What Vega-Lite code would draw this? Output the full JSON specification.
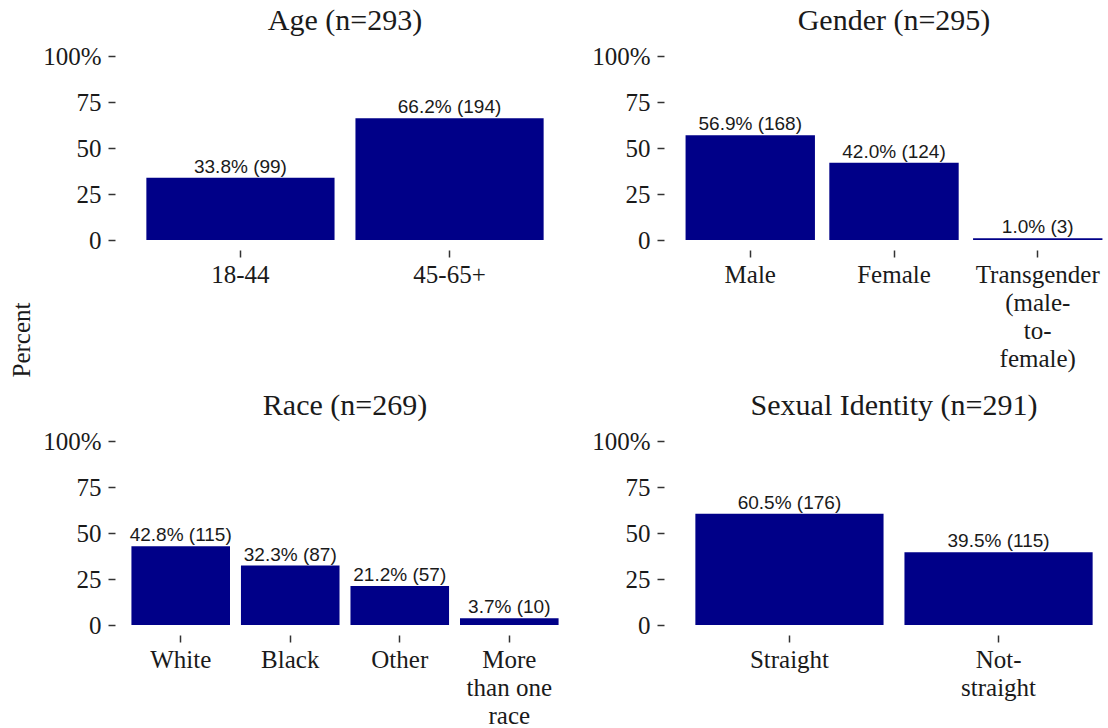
{
  "$schema": "https://vega.github.io/schema/vega-lite/v6.json",
  "background": "white",
  "padding": {"left": 2, "top": 6, "right": 0, "bottom": 0},
  "datasets": {
    "demo": [
      {"group": "Age", "category": "18-44", "pct": 33.8, "n": 99, "label": "33.8% (99)"},
      {"group": "Age", "category": "45-65+", "pct": 66.2, "n": 194, "label": "66.2% (194)"},
      {"group": "Gender", "category": "Male", "pct": 56.9, "n": 168, "label": "56.9% (168)"},
      {"group": "Gender", "category": "Female", "pct": 42.0, "n": 124, "label": "42.0% (124)"},
      {"group": "Gender", "category": "Transgender (male-to-female)", "pct": 1.0, "n": 3, "label": "1.0% (3)"},
      {"group": "Race", "category": "White", "pct": 42.8, "n": 115, "label": "42.8% (115)"},
      {"group": "Race", "category": "Black", "pct": 32.3, "n": 87, "label": "32.3% (87)"},
      {"group": "Race", "category": "Other", "pct": 21.2, "n": 57, "label": "21.2% (57)"},
      {"group": "Race", "category": "More than one race", "pct": 3.7, "n": 10, "label": "3.7% (10)"},
      {"group": "Sexual Identity", "category": "Straight", "pct": 60.5, "n": 176, "label": "60.5% (176)"},
      {"group": "Sexual Identity", "category": "Not-straight", "pct": 39.5, "n": 115, "label": "39.5% (115)"}
    ],
    "ylab": [{"text": "Percent"}]
  },
  "config": {
    "view": {"stroke": null},
    "font": "Liberation Serif",
    "title": {"font": "Liberation Serif", "fontSize": 30, "fontWeight": "normal", "color": "#1a1a1a", "anchor": "middle", "offset": 8},
    "axis": {"domain": false, "grid": false, "title": null, "labelFont": "Liberation Serif", "labelFontSize": 25, "labelColor": "#1a1a1a", "tickColor": "#333333", "tickWidth": 1.5, "tickSize": 7},
    "axisY": {"labelPadding": 7},
    "axisX": {"labelAngle": 0, "offset": 10, "labelPadding": 5, "labelLineHeight": 28}
  },
  "spacing": 0,
  "hconcat": [
    {
      "data": {"name": "ylab"},
      "width": 40,
      "height": 568,
      "mark": {"type": "text", "angle": 270, "font": "Liberation Serif", "fontSize": 25, "baseline": "middle", "align": "center", "color": "#1a1a1a"},
      "encoding": {"text": {"field": "text"}}
    },
    {
      "spacing": 20,
      "vconcat": [
        {
          "spacing": 16,
          "hconcat": [
            {
              "title": "Age (n=293)",
              "width": 460, "height": 184,
              "data": {"name": "demo"},
              "transform": [{"filter": "datum.group == 'Age'"}],
              "encoding": {
                "x": {"field": "category", "type": "nominal", "sort": null, "scale": {"paddingInner": 0.1, "paddingOuter": 0.15}, "axis": {"labelExpr": "datum.value == 'Transgender (male-to-female)' ? ['Transgender', '(male-', 'to-', 'female)'] : datum.value == 'More than one race' ? ['More', 'than one', 'race'] : datum.value == 'Not-straight' ? ['Not-', 'straight'] : datum.label"}},
                "y": {"field": "pct", "type": "quantitative", "scale": {"domain": [0, 100], "nice": false}, "axis": {"values": [0, 25, 50, 75, 100], "labelExpr": "datum.value == 100 ? '100%' : datum.label"}}
              },
              "layer": [
                {"mark": {"type": "bar", "color": "#000088"}},
                {"mark": {"type": "text", "font": "Liberation Sans", "fontSize": 19, "baseline": "alphabetic", "dy": -5, "color": "#1a1a1a"}, "encoding": {"text": {"field": "label"}}}
              ]
            },
            {
              "title": "Gender (n=295)",
              "width": 460, "height": 184,
              "data": {"name": "demo"},
              "transform": [{"filter": "datum.group == 'Gender'"}],
              "encoding": {
                "x": {"field": "category", "type": "nominal", "sort": null, "scale": {"paddingInner": 0.1, "paddingOuter": 0.15}, "axis": {"labelExpr": "datum.value == 'Transgender (male-to-female)' ? ['Transgender', '(male-', 'to-', 'female)'] : datum.value == 'More than one race' ? ['More', 'than one', 'race'] : datum.value == 'Not-straight' ? ['Not-', 'straight'] : datum.label"}},
                "y": {"field": "pct", "type": "quantitative", "scale": {"domain": [0, 100], "nice": false}, "axis": {"values": [0, 25, 50, 75, 100], "labelExpr": "datum.value == 100 ? '100%' : datum.label"}}
              },
              "layer": [
                {"mark": {"type": "bar", "color": "#000088"}},
                {"mark": {"type": "text", "font": "Liberation Sans", "fontSize": 19, "baseline": "alphabetic", "dy": -5, "color": "#1a1a1a"}, "encoding": {"text": {"field": "label"}}}
              ]
            }
          ]
        },
        {
          "spacing": 16,
          "hconcat": [
            {
              "title": "Race (n=269)",
              "width": 460, "height": 184,
              "data": {"name": "demo"},
              "transform": [{"filter": "datum.group == 'Race'"}],
              "encoding": {
                "x": {"field": "category", "type": "nominal", "sort": null, "scale": {"paddingInner": 0.1, "paddingOuter": 0.15}, "axis": {"labelExpr": "datum.value == 'Transgender (male-to-female)' ? ['Transgender', '(male-', 'to-', 'female)'] : datum.value == 'More than one race' ? ['More', 'than one', 'race'] : datum.value == 'Not-straight' ? ['Not-', 'straight'] : datum.label"}},
                "y": {"field": "pct", "type": "quantitative", "scale": {"domain": [0, 100], "nice": false}, "axis": {"values": [0, 25, 50, 75, 100], "labelExpr": "datum.value == 100 ? '100%' : datum.label"}}
              },
              "layer": [
                {"mark": {"type": "bar", "color": "#000088"}},
                {"mark": {"type": "text", "font": "Liberation Sans", "fontSize": 19, "baseline": "alphabetic", "dy": -5, "color": "#1a1a1a"}, "encoding": {"text": {"field": "label"}}}
              ]
            },
            {
              "title": "Sexual Identity (n=291)",
              "width": 460, "height": 184,
              "data": {"name": "demo"},
              "transform": [{"filter": "datum.group == 'Sexual Identity'"}],
              "encoding": {
                "x": {"field": "category", "type": "nominal", "sort": null, "scale": {"paddingInner": 0.1, "paddingOuter": 0.15}, "axis": {"labelExpr": "datum.value == 'Transgender (male-to-female)' ? ['Transgender', '(male-', 'to-', 'female)'] : datum.value == 'More than one race' ? ['More', 'than one', 'race'] : datum.value == 'Not-straight' ? ['Not-', 'straight'] : datum.label"}},
                "y": {"field": "pct", "type": "quantitative", "scale": {"domain": [0, 100], "nice": false}, "axis": {"values": [0, 25, 50, 75, 100], "labelExpr": "datum.value == 100 ? '100%' : datum.label"}}
              },
              "layer": [
                {"mark": {"type": "bar", "color": "#000088"}},
                {"mark": {"type": "text", "font": "Liberation Sans", "fontSize": 19, "baseline": "alphabetic", "dy": -5, "color": "#1a1a1a"}, "encoding": {"text": {"field": "label"}}}
              ]
            }
          ]
        }
      ]
    }
  ]
}
